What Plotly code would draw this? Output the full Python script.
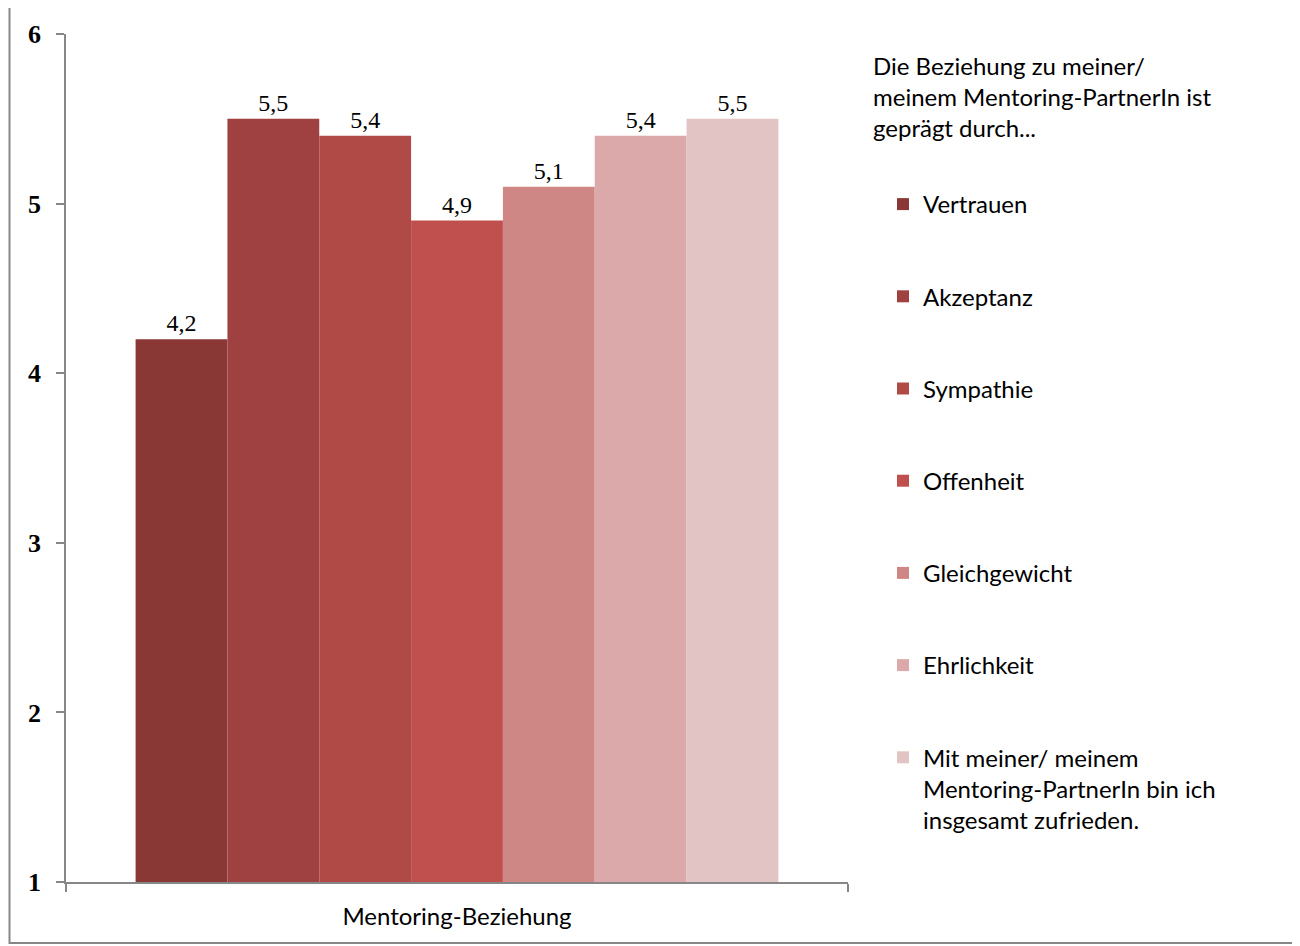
import plotly.graph_objects as go

category = ["Mentoring-Beziehung"]
series_names = [
    "Vertrauen",
    "Akzeptanz",
    "Sympathie",
    "Offenheit",
    "Gleichgewicht",
    "Ehrlichkeit",
    "Mit meiner/ meinem<br>Mentoring-PartnerIn bin ich<br>insgesamt zufrieden.",
]
values = [4.2, 5.5, 5.4, 4.9, 5.1, 5.4, 5.5]
colors = ["#8A3836", "#9E4140", "#B04A47", "#C0504D", "#CE8785", "#DBA9AA", "#E3C4C5"]
y_ticks = [1, 2, 3, 4, 5, 6]
legend_title = "Die Beziehung zu meiner/<br>meinem Mentoring-PartnerIn ist<br>geprägt durch..."

SANS = "Lato, 'Open Sans', sans-serif"
SERIF = "'Liberation Serif', 'DejaVu Serif', serif"
BASE = 1

# page body has an 8px margin: figure is 8px smaller so it ends at the window edge
W, H = 1292, 938
PL, PT = 58, 26          # plot area left/top in figure px
PW, PH = 782, 848        # plot area size


def px_x(page_x):
    return (page_x - 8 - PL) / PW


def px_y(page_y):
    return (PT + PH - (page_y - 8)) / PH


fig = go.Figure()
for i, (name, v, c) in enumerate(zip(series_names, values, colors)):
    fig.add_trace(go.Bar(
        x=category, y=[v - BASE], base=BASE, customdata=[v], name=name,
        marker=dict(color=c, line=dict(width=0)),
        legendgroup=f"g{i}",
        texttemplate="%{customdata:.1f}", textposition="outside",
        textfont=dict(family=SERIF, size=24, color="#000000"),
        cliponaxis=False, hoverinfo="name+text",
    ))

fig.update_layout(
    width=W, height=H,
    margin=dict(l=PL, r=W - PL - PW, t=PT, b=H - PT - PH),
    paper_bgcolor="white", plot_bgcolor="white",
    separators=",.",
    barmode="group", bargap=0.178, bargroupgap=0,
    showlegend=True,
    legend=dict(
        x=px_x(883), xanchor="left", y=px_y(182), yanchor="top",
        font=dict(family=SANS, size=24, color="#000000"),
        tracegroupgap=58, valign="top",
        traceorder="grouped",
    ),
    xaxis=dict(
        showline=True, linecolor="#878787", linewidth=1.5,
        ticks="outside", tickson="boundaries", ticklen=8, tickcolor="#878787", tickwidth=1.5,
        tickfont=dict(family=SANS, size=24, color="#000000"),
        showgrid=False, zeroline=False, ticklabelstandoff=12,
    ),
    yaxis=dict(
        range=[1, 6], tickvals=y_ticks,
        showline=True, linecolor="#878787", linewidth=1.5,
        ticks="outside", ticklen=8, tickcolor="#878787", tickwidth=1.5,
        tickfont=dict(family=SERIF, size=26, color="#000000", weight="bold"),
        showgrid=False, zeroline=False, ticklabelstandoff=10,
    ),
    annotations=[dict(
        text=legend_title, xref="paper", yref="paper",
        x=px_x(871), y=px_y(49), xanchor="left", yanchor="top",
        align="left", showarrow=False,
        font=dict(family=SANS, size=24, color="#000000"),
    )],
    shapes=[dict(
        type="rect", xref="paper", yref="paper",
        x0=px_x(9.5), x1=px_x(1293.5),
        y0=px_y(943), y1=px_y(5),
        line=dict(color="#878787", width=2), fillcolor="rgba(0,0,0,0)", layer="below",
    )],
)

fig.write_html("out.html")
